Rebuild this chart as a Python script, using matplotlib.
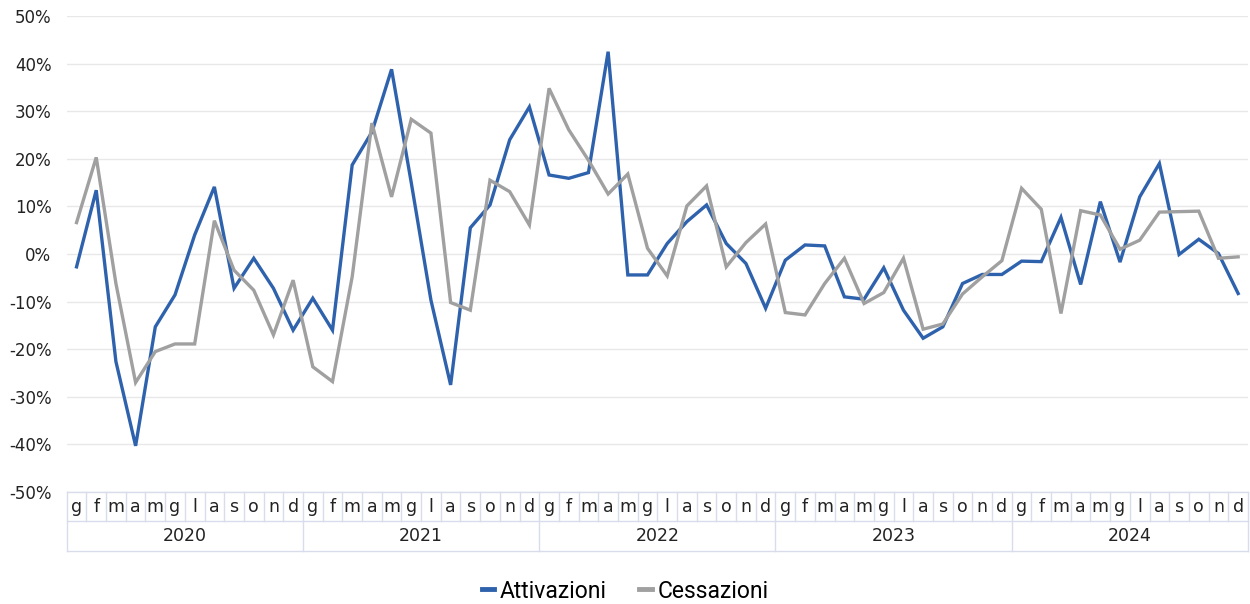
import matplotlib.pyplot as plt
import numpy as np
from matplotlib.lines import Line2D
from matplotlib.ticker import FuncFormatter

## the data (variazione %)
years = ["2020", "2021", "2022", "2023", "2024"]
months = ["g", "f", "m", "a", "m", "g", "l", "a", "s", "o", "n", "d"]

attivazioni = [
    -2.7, 13.4, -22.6, -40.3, -15.3, -8.6, 4.0, 14.1, -7.2, -0.9, -7.2, -16.0,
    -9.3, -16.0, 18.7, 25.6, 38.8, 15.0, -9.7, -27.5, 5.5, 10.3, 24.0, 30.9,
    16.6, 15.9, 17.1, 42.5, -4.4, -4.4, 2.2, 6.8, 10.3, 2.2, -2.0, -11.4,
    -1.3, 1.9, 1.7, -9.0, -9.5, -2.9, -11.8, -17.7, -15.3, -6.2, -4.3, -4.3,
    -1.5, -1.6, 7.7, -6.4, 11.0, -1.7, 12.0, 19.0, -0.1, 3.1, 0.1, -8.3,
]
cessazioni = [
    6.6, 20.3, -6.2, -27.0, -20.5, -18.9, -18.9, 7.0, -3.4, -7.6, -17.0, -5.5,
    -23.7, -26.8, -4.8, 27.5, 12.0, 28.3, 25.4, -10.2, -11.8, 15.5, 13.1, 6.1,
    34.8, 26.1, 19.7, 12.6, 16.8, 1.2, -4.6, 10.1, 14.3, -2.7, 2.4, 6.3,
    -12.3, -12.8, -6.2, -0.9, -10.4, -8.1, -0.9, -15.8, -14.7, -8.4, -4.8, -1.4,
    13.8, 9.4, -12.5, 9.1, 8.2, 1.0, 2.9, 8.8, 8.9, 9.0, -0.9, -0.6,
]

blue = "#2F62AD"
grey = "#A0A0A0"
border = "#D9DCEB"

n = len(attivazioni)
x = np.arange(n)

## start the figure
fig = plt.figure(figsize=(12.5, 6.04), dpi=100)
ax = fig.add_axes([66.7 / 1250, 112 / 604, 1181.3 / 1250, 476 / 604])

ax.plot(x, np.array(attivazioni) / 100, color=blue, lw=2.4, solid_joinstyle="miter")
ax.plot(x, np.array(cessazioni) / 100, color=grey, lw=2.4, solid_joinstyle="miter")

## style the axes
ax.set_xlim(-0.5, n - 0.5)
ax.set_ylim(-0.5, 0.5)
ax.set_yticks(np.arange(-0.5, 0.51, 0.1))
ax.yaxis.set_major_formatter(FuncFormatter(lambda v, p: f"{round(v * 100):d}%"))
ax.grid(axis="y", color="#E8E8E8", lw=1)
ax.set_axisbelow(True)
ax.set_xticks([])
ax.tick_params(axis="y", length=0, pad=11, labelsize=12, labelcolor="#222222")
for s in ax.spines.values():
    s.set_visible(False)

## category table below the plot (months / years)
trans = ax.get_xaxis_transform()
row1 = -29 / 476
row2 = -59 / 476
for yy in [0, row1, row2]:
    ax.plot([-0.5, n - 0.5], [yy, yy], color=border, lw=1, transform=trans, clip_on=False)
for i in range(n + 1):
    bottom = row2 if i % 12 == 0 else row1
    ax.plot([i - 0.5, i - 0.5], [0, bottom], color=border, lw=1, transform=trans, clip_on=False)
for i in range(n):
    ax.text(i, row1 / 2, months[i % 12], transform=trans, ha="center", va="center",
            fontsize=12.5, color="#222222")
for k, yr in enumerate(years):
    ax.text(12 * k + 5.5, (row1 + row2) / 2, yr, transform=trans, ha="center", va="center",
            fontsize=12.5, color="#222222")

## legend
handles = [Line2D([0], [0], color=blue, lw=3.5), Line2D([0], [0], color=grey, lw=3.5)]
fig.legend(handles, ["Attivazioni", "Cessazioni"], loc="center", bbox_to_anchor=(0.5, 13 / 604),
           ncol=2, frameon=False, handlelength=0.55, handletextpad=0.25, columnspacing=1.4,
           prop={"family": "Roboto", "size": 16.5})

fig.savefig("out.png", dpi=100, facecolor="white")
